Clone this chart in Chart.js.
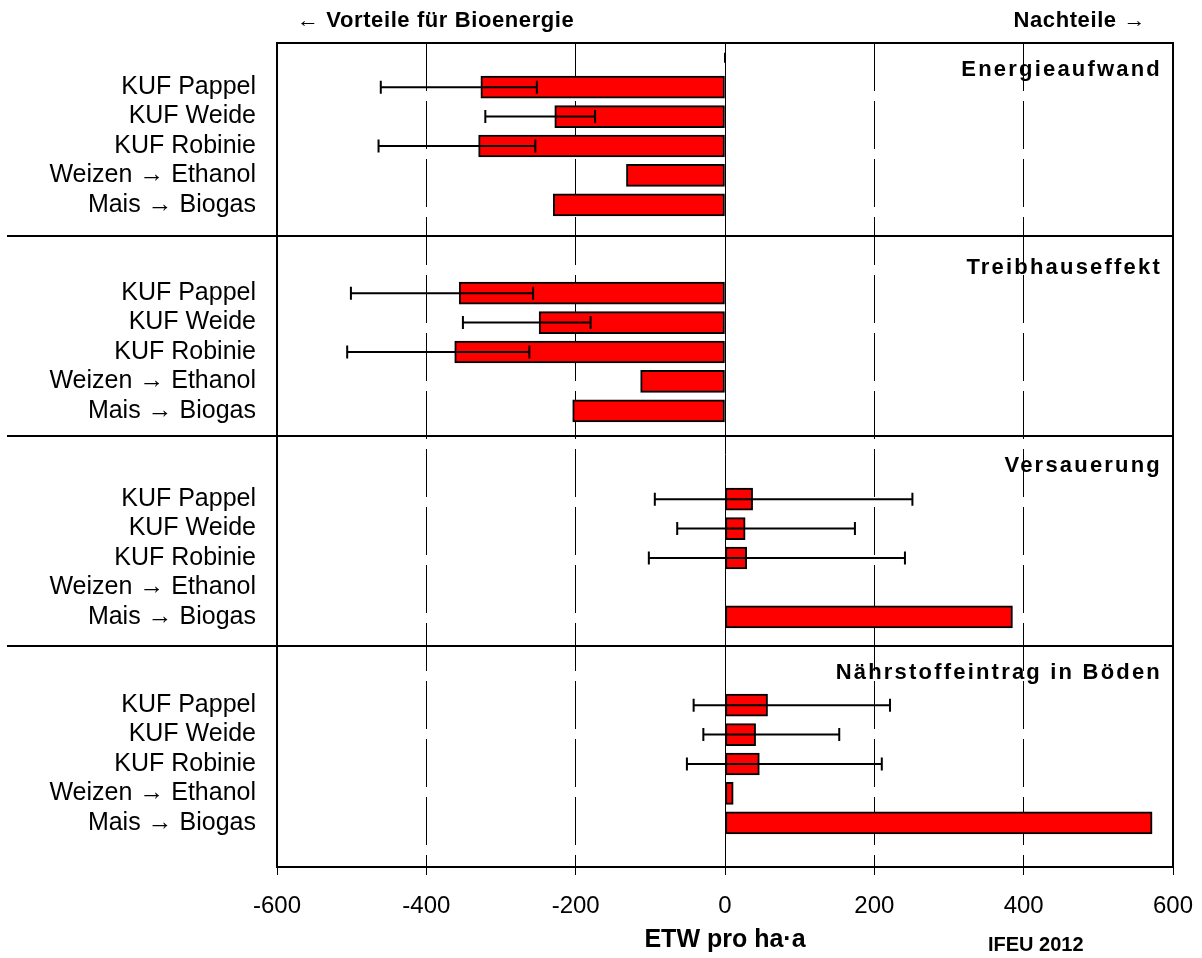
<!DOCTYPE html>
<html>
<head>
<meta charset="utf-8">
<script src="https://cdn.jsdelivr.net/npm/chart.js@4"></script>
<style>
  html, body { margin: 0; padding: 0; background: #fff; }
  #wrap { width: 1202px; height: 958px; }
</style>
</head>
<body>
<div id="wrap"><canvas id="chart" width="1202" height="958"></canvas></div>
<script>
'use strict';

// ── Data ──────────────────────────────────────────────────────
const categories = ['KUF Pappel', 'KUF Weide', 'KUF Robinie', 'Weizen → Ethanol', 'Mais → Biogas'];
const panelTitles = ['Energieaufwand', 'Treibhauseffekt', 'Versauerung', 'Nährstoffeintrag in Böden'];

const energieaufwand     = [-327, -228, -330, -132, -230];
const energieaufwandLow  = [-461, -321, -464, null, null];
const energieaufwandHigh = [-252, -174, -254, null, null];

const treibhauseffekt     = [-356, -249, -362, -113, -204];
const treibhauseffektLow  = [-501, -351, -506, null, null];
const treibhauseffektHigh = [-257, -180, -262, null, null];

const versauerung     = [37, 27, 29, null, 385];
const versauerungLow  = [-94, -64, -102, null, null];
const versauerungHigh = [251, 174, 241, null, null];

const naehrstoff     = [57, 41, 46, 11, 572];
const naehrstoffLow  = [-42, -29, -51, null, null];
const naehrstoffHigh = [221, 153, 210, null, null];

const xTicks = [-600, -400, -200, 0, 200, 400, 600];

// ── Rows: 1 leading row, then 5 bars + 2 spacer rows per panel ──
const panelValues = [energieaufwand, treibhauseffekt, versauerung, naehrstoff];
const panelLow    = [energieaufwandLow, treibhauseffektLow, versauerungLow, naehrstoffLow];
const panelHigh   = [energieaufwandHigh, treibhauseffektHigh, versauerungHigh, naehrstoffHigh];

const rowLabels = [], rowValues = [], rowLow = [], rowHigh = [];
rowLabels.push(''); rowValues.push(null); rowLow.push(0); rowHigh.push(0);
panelValues.forEach((vals, p) => {
  categories.forEach((c, i) => {
    rowLabels.push(c);
    rowValues.push(vals[i]);
    rowLow.push(panelLow[p][i]);
    rowHigh.push(panelHigh[p][i]);
  });
  const spacers = p < panelValues.length - 1 ? 2 : 1;
  for (let k = 0; k < spacers; k++) {
    rowLabels.push(''); rowValues.push(null); rowLow.push(null); rowHigh.push(null);
  }
});

// layout helpers (row units on the category axis)
const titleRows = [0.41, 7.13, 13.86, 20.89];
const separatorRows = [6.07, 12.87, 20.0];

const FONT = '"Liberation Sans", Arial, sans-serif';

// ── Plugins ───────────────────────────────────────────────────
const errorBars = {
  id: 'errorBars',
  afterDatasetsDraw(chart) {
    const { ctx, scales: { x, y } } = chart;
    ctx.save();
    ctx.strokeStyle = '#000';
    ctx.lineWidth = 2;
    rowLow.forEach((lo, i) => {
      const hi = rowHigh[i];
      if (lo === null || hi === null) return;
      const py = y.getPixelForValue(i);
      const x1 = x.getPixelForValue(lo), x2 = x.getPixelForValue(hi);
      const cap = lo === hi ? 5 : 6.5;
      ctx.beginPath();
      ctx.moveTo(x1, py); ctx.lineTo(x2, py);
      ctx.moveTo(x1, py - cap); ctx.lineTo(x1, py + cap);
      ctx.moveTo(x2, py - cap); ctx.lineTo(x2, py + cap);
      ctx.stroke();
    });
    ctx.restore();
  }
};

const frame = {
  id: 'frame',
  afterDraw(chart) {
    const { ctx, chartArea: a, scales: { y } } = chart;
    ctx.save();
    ctx.strokeStyle = '#000';
    ctx.lineWidth = 2;
    ctx.strokeRect(a.left, a.top, a.right - a.left, a.bottom - a.top);
    ctx.beginPath();
    separatorRows.forEach(r => {
      const py = Math.round(y.getPixelForValue(r));
      ctx.moveTo(7, py); ctx.lineTo(a.right, py);
    });
    ctx.stroke();

    // panel titles
    ctx.fillStyle = '#000';
    ctx.font = 'bold 22px ' + FONT;
    ctx.letterSpacing = '2.2px';
    ctx.textAlign = 'right';
    ctx.textBaseline = 'middle';
    panelTitles.forEach((t, i) => {
      ctx.fillText(t, a.right - 11, y.getPixelForValue(titleRows[i]));
    });

    // direction hints above the plot
    ctx.letterSpacing = '0.6px';
    ctx.textAlign = 'left';
    ctx.fillText('← Vorteile für Bioenergie', 297, a.top - 22);
    ctx.textAlign = 'right';
    ctx.fillText('Nachteile →', 1146, a.top - 22);

    // source note
    ctx.letterSpacing = '0px';
    ctx.font = 'bold 20px ' + FONT;
    ctx.textAlign = 'left';
    ctx.textBaseline = 'alphabetic';
    ctx.fillText('IFEU 2012', 988, 951);
    ctx.restore();
  }
};

// ── Chart ─────────────────────────────────────────────────────
new Chart(document.getElementById('chart'), {
  type: 'bar',
  data: {
    labels: rowLabels,
    datasets: [{
      data: rowValues,
      backgroundColor: '#ff0000',
      borderColor: '#000',
      borderWidth: 2,
      borderSkipped: false,
      barThickness: 22
    }]
  },
  options: {
    indexAxis: 'y',
    responsive: false,
    animation: false,
    layout: { padding: { top: 43, right: 29, bottom: 0, left: 20 } },
    plugins: { legend: { display: false }, tooltip: { enabled: false } },
    scales: {
      x: {
        type: 'linear',
        min: -600,
        max: 600,
        afterBuildTicks: s => { s.ticks = xTicks.map(v => ({ value: v })); },
        afterFit: s => { s.height = 91; s.paddingLeft = 0; s.paddingRight = 0; },
        ticks: { color: '#000', font: { family: FONT, size: 24 }, padding: 17 },
        grid: { color: '#000', lineWidth: 1, tickLength: 8 },
        border: {
          display: true, color: '#000', width: 2,
          dash: c => (c.type === 'tick' && c.tick && c.tick.value !== 0) ? [48, 10] : []
        },
        title: {
          display: true,
          text: 'ETW pro ha·a',
          color: '#000',
          font: { family: FONT, size: 25, weight: 'bold' },
          padding: { top: 0, bottom: 3 }
        }
      },
      y: {
        type: 'category',
        afterFit: s => { s.width = 257; },
        ticks: { color: '#000', font: { family: FONT, size: 25 }, padding: 13, autoSkip: false },
        grid: { display: false },
        border: { display: true, color: '#000', width: 2 }
      }
    }
  },
  plugins: [errorBars, frame]
});
</script>
</body>
</html>
